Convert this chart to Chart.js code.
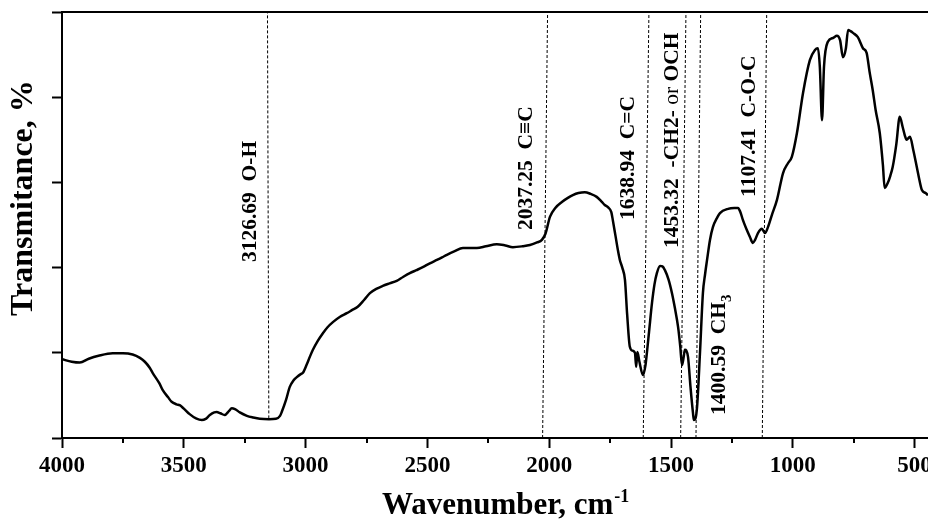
<!DOCTYPE html>
<html><head><meta charset="utf-8">
<script src="https://cdn.jsdelivr.net/npm/chart.js@4.4.1/dist/chart.umd.min.js"></script>
<style>html,body{margin:0;padding:0;overflow:hidden;background:#fff}#wrap{width:960px;height:521px}</style>
</head><body><div id="wrap"><canvas id="c" width="960" height="521"></canvas></div>
<script>
// ---- data ----
const wavenumbers = [4000,3960,3927,3890,3850,3792,3750,3710,3680,3660,3640,3628,3600,3587,3565,3550,3530,3517,3500,3476,3450,3426,3410,3393,3375,3365,3350,3332,3315,3303,3290,3270,3241,3215,3188,3150,3122,3105,3098,3080,3065,3050,3036,3020,3011,2995,2983,2970,2950,2929,2910,2888,2860,2831,2810,2786,2760,2736,2710,2683,2655,2626,2600,2572,2545,2519,2490,2461,2440,2420,2390,2354,2330,2297,2260,2215,2180,2149,2110,2079,2050,2030,2015,1997,1975,1948,1925,1903,1880,1854,1830,1805,1785,1772,1759,1745,1739,1728,1718,1710,1700,1689,1680,1669,1658,1648,1643,1638,1630,1615,1605,1599,1590,1578,1568,1558,1545,1535,1525,1510,1496,1484,1471,1462,1455,1448,1443,1437,1430,1420,1410,1406,1400,1393,1381,1369,1360,1352,1340,1328,1310,1299,1266,1240,1225,1215,1205,1190,1176,1164,1155,1143,1127,1114,1102,1085,1065,1040,1020,1004,983,958,930,909,897,889,880,872,856,835,819,806,794,782,773,763,753,733,712,697,685,672,660,643,630,623,610,600,590,575,561,549,540,533,519,505,491,480,470,455,445];
const transmittance = [18.5,17.9,17.7,18.6,19.3,19.9,19.9,19.6,18.8,17.9,16.5,15.3,12.8,11.3,9.6,8.5,7.9,7.7,6.9,5.6,4.6,4.2,4.5,5.4,6.0,6.1,5.8,5.4,6.3,7.0,6.8,6.0,5.2,4.8,4.5,4.4,4.5,5.2,6.1,9.0,12.0,13.5,14.3,15.0,15.3,17.3,19.0,20.7,22.8,24.6,26.0,27.2,28.4,29.3,30.0,30.8,32.4,34.0,35.0,35.7,36.3,36.9,37.8,38.7,39.4,40.1,41.0,41.8,42.4,43.0,43.8,44.6,44.6,44.6,45.0,45.5,45.2,44.8,45.0,45.3,45.9,46.5,48.0,51.9,54.0,55.4,56.3,57.0,57.5,57.7,57.3,56.6,55.5,54.7,54.2,53.0,51.2,47.5,44.1,41.8,40.0,37.1,29.0,21.4,20.5,20.0,16.7,20.2,18.0,14.8,17.0,20.0,25.0,31.7,36.0,38.7,40.4,40.3,39.4,37.2,34.0,30.5,26.1,21.5,17.1,19.0,20.7,20.5,19.0,12.0,6.0,4.2,4.5,7.3,20.0,34.0,38.5,41.8,46.5,49.5,51.8,52.8,53.8,54.0,54.0,53.0,51.2,49.0,47.2,45.8,46.5,48.1,49.1,48.1,49.5,52.5,55.9,62.2,64.5,66.0,71.6,81.0,88.7,91.1,91.5,87.1,74.6,87.1,93.0,93.9,94.4,93.4,89.4,91.5,95.8,95.5,95.1,94.1,91.5,90.4,86.0,81.7,77.0,71.6,64.0,58.7,59.9,61.5,63.6,69.0,75.4,73.0,71.0,70.0,70.7,67.5,63.6,60.5,58.2,57.5,57.0];

const xMajorTicks = [4000,3500,3000,2500,2000,1500,1000,500];
const xMinorTicks = [3750,3250,2750,2250,1750,1250,750];

// peak marker lines (wavenumber at top / bottom of each dashed line, and where it stops)
const peakLineTopW    = [3156.5, 2006.6, 1590.6, 1438.6, 1378.2, 1107.2];
const peakLineBottomW = [3151.0, 2027.1, 1614.0, 1460.4, 1397.5, 1125.3];
const peakLineEndT    = [4.6, 0, 0, 0, 0, 0];

// peak label texts
const peakLabelTexts = [
  [["3126.69  O-H","b"]],
  [["2037.25  C\u2261C","b"]],
  [["1638.94  C=C","b"]],
  [["1453.32  -CH2- ","b"],["or ","r"],["OCH","b"]],
  [["1400.59  CH","b"],["3","sub"]],
  [["1107.41  C-O-C","b"]]
];
// label anchors (wavenumber of text centre line, transmittance where text starts)
const labelAnchorW = [3225, 2092, 1673, 1496, 1303, 1180];
const labelAnchorT = [41.3, 48.8, 51.2, 44.6, 5.4, 56.6];

// ---- chart ----
const SERIF = '"Liberation Serif","Times New Roman",serif';
const fonts = { b: 'bold 21.5px ' + SERIF, r: '21.5px ' + SERIF, sub: 'bold 15px ' + SERIF };
const dys = { b: 0, r: 0, sub: 8 };

const datasets = [];
peakLineTopW.forEach((w, i) => {
  datasets.push({
    data: [{x: peakLineBottomW[i], y: peakLineEndT[i]}, {x: w, y: 100}],
    borderColor: '#000', borderWidth: 1, borderDash: [3, 2], pointRadius: 0, tension: 0, fill: false
  });
});
datasets.push({
  data: wavenumbers.map((w, i) => ({x: w, y: transmittance[i]})),
  borderColor: '#000', borderWidth: 2.5, pointRadius: 0, fill: false,
  cubicInterpolationMode: 'monotone'
});

function drawRotated(ctx, parts, px, py) {
  ctx.save();
  ctx.translate(px, py);
  ctx.rotate(-Math.PI / 2);
  ctx.textAlign = 'left';
  ctx.textBaseline = 'middle';
  ctx.fillStyle = '#000';
  let cx = 0;
  parts.forEach(([t, k]) => {
    ctx.font = fonts[k];
    ctx.fillText(t, cx, dys[k]);
    cx += ctx.measureText(t).width;
  });
  ctx.restore();
}

const annot = {
  id: 'annot',
  afterDraw(chart) {
    const {ctx, chartArea, scales: {x, y}} = chart;
    ctx.save();
    // minor ticks
    ctx.strokeStyle = '#000'; ctx.lineWidth = 2;
    xMinorTicks.forEach(v => {
      const px = Math.round(x.getPixelForValue(v));
      ctx.beginPath(); ctx.moveTo(px, chartArea.bottom); ctx.lineTo(px, chartArea.bottom + 5); ctx.stroke();
    });
    // peak labels
    peakLabelTexts.forEach((parts, i) => {
      drawRotated(ctx, parts, x.getPixelForValue(labelAnchorW[i]), y.getPixelForValue(labelAnchorT[i]));
    });
    // axis titles
    ctx.fillStyle = '#000';
    ctx.textBaseline = 'alphabetic';
    ctx.textAlign = 'left';
    ctx.font = 'bold 31px ' + SERIF;
    const t1 = 'Wavenumber, cm';
    ctx.fillText(t1, 382, 514);
    const w1 = ctx.measureText(t1).width;
    ctx.font = 'bold 18px ' + SERIF;
    ctx.fillText('-1', 382 + w1 + 1, 502);
    ctx.save();
    ctx.translate(32, 316);
    ctx.rotate(-Math.PI / 2);
    ctx.font = 'bold 32px ' + SERIF;
    ctx.fillText('Transmitance, %', 0, 0);
    ctx.restore();
    ctx.restore();
  }
};

new Chart(document.getElementById('c'), {
  type: 'line',
  data: { datasets },
  options: {
    responsive: false, animation: false, devicePixelRatio: 1,
    layout: { padding: { left: 0, top: 12, right: 32, bottom: 0 } },
    plugins: { legend: { display: false }, tooltip: { enabled: false } },
    scales: {
      x: {
        type: 'linear', position: 'bottom', reverse: true, min: 445, max: 4000,
        afterBuildTicks: s => { s.ticks = xMajorTicks.map(v => ({ value: v })); },
        afterFit: s => { s.height = 83; },
        border: { color: '#000', width: 2 },
        grid: { drawOnChartArea: false, drawTicks: true, tickLength: 10, tickWidth: 2, tickColor: '#000' },
        ticks: {
          autoSkip: false, maxRotation: 0, padding: 4,
          color: '#000', font: { family: SERIF, size: 23, weight: 'bold' },
          callback: v => String(v)
        }
      },
      xTop: {
        type: 'linear', position: 'top', reverse: true, min: 445, max: 4000,
        afterFit: s => { s.height = 0; },
        border: { color: '#000', width: 2 },
        grid: { display: false },
        ticks: { display: false }
      },
      y: {
        min: 0, max: 100,
        afterFit: s => { s.width = 62; },
        border: { color: '#000', width: 2 },
        grid: { drawOnChartArea: false, drawTicks: true, tickLength: 10, tickWidth: 2, tickColor: '#000' },
        ticks: { stepSize: 20, display: false }
      }
    }
  },
  plugins: [annot]
});
</script>
</body></html>
